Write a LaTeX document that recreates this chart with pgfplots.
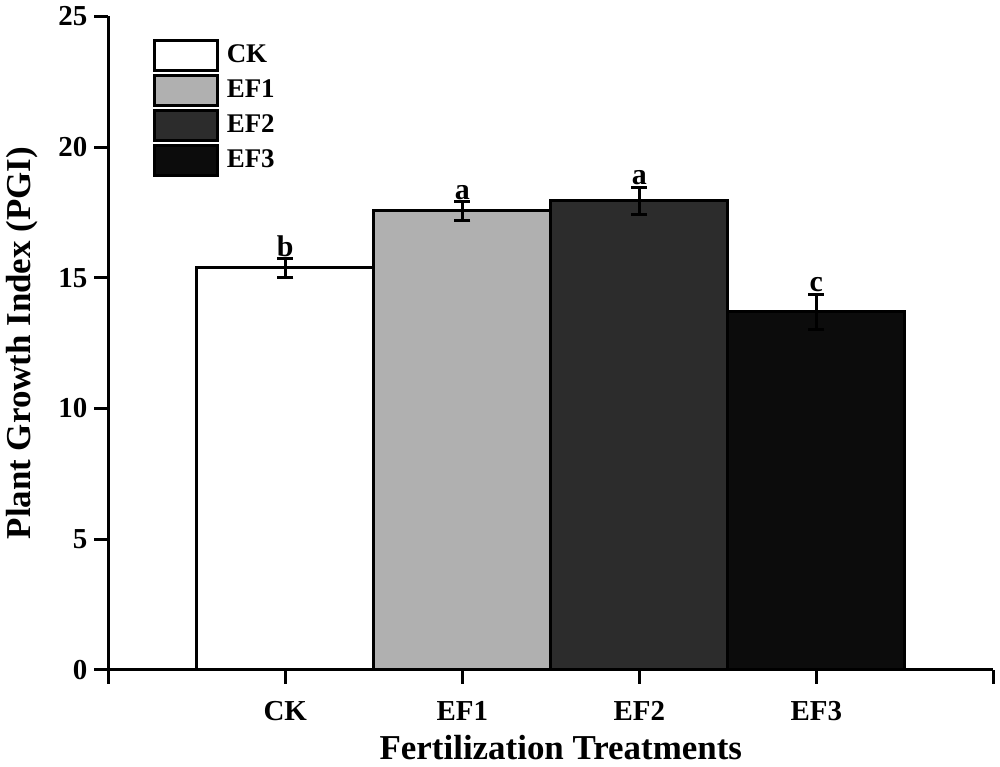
\documentclass[border=0pt]{standalone}
\usepackage{pgfplots}
\pgfplotsset{compat=1.18}
\usepackage{fontspec}
\setmainfont{Liberation Serif}
\definecolor{efone}{RGB}{176,176,176}
\definecolor{eftwo}{RGB}{44,44,44}
\definecolor{efthree}{RGB}{12,12,12}
\newcommand{\tickfont}{\bfseries\fontsize{14.5}{15}\selectfont}
\newcommand{\labfont}{\bfseries\fontsize{17.5}{18}\selectfont}
\begin{document}
\begin{tikzpicture}
\begin{axis}[
    scale only axis,
    width=443.5pt, height=327.5pt,
    xmin=0, xmax=5, ymin=0, ymax=25,
    axis x line*=bottom, axis y line*=left,
    axis line style={line width=1.5pt, -},
    xtick={0,1,2,3,4,5},
    xticklabels={,CK,EF1,EF2,EF3,},
    ytick={0,5,10,15,20,25},
    tick align=outside,
    major tick length=7pt,
    tick style={line width=1.5pt, black},
    tick label style={font=\tickfont},
    xticklabel style={text height=10pt, text depth=0pt, yshift=-5pt},
    /pgf/number format/assume math mode=true,
    xlabel={Fertilization Treatments},
    ylabel={Plant Growth Index (PGI)},
    every axis x label/.style={at={([xshift=5pt, yshift=-39pt]axis description cs:0.5,0)}, anchor=center, font=\labfont},
    every axis y label/.style={at={([xshift=-43pt]axis description cs:0,0.5)}, rotate=90, anchor=center, font=\labfont},
    legend style={at={(axis description cs:0.05,0.966)}, anchor=north west, draw=none, fill=none,
        font=\bfseries\fontsize{13.5}{14}\selectfont, row sep=1pt, inner sep=0pt,
        nodes={inner xsep=4pt}},
    legend cell align=left,
    legend image code/.code={\draw[#1, line width=1.5pt] (0pt,-7.5pt) rectangle (31.5pt,7.5pt);},
    clip=false,
]
\addplot[ybar, bar width=1, bar shift=0, fill=white, draw=black, line width=1.5pt,
    error bars/.cd, y dir=both, y explicit,
    error bar style={line width=1.5pt, black},
    error mark options={rotate=90, mark size=4pt, line width=1.5pt, black}]
    coordinates {(1,15.38) +- (0,0.35)};
\addlegendentry{CK}
\addplot[ybar, bar width=1, bar shift=0, fill=efone, draw=black, line width=1.5pt,
    error bars/.cd, y dir=both, y explicit,
    error bar style={line width=1.5pt, black},
    error mark options={rotate=90, mark size=4pt, line width=1.5pt, black}]
    coordinates {(2,17.56) +- (0,0.35)};
\addlegendentry{EF1}
\addplot[ybar, bar width=1, bar shift=0, fill=eftwo, draw=black, line width=1.5pt,
    error bars/.cd, y dir=both, y explicit,
    error bar style={line width=1.5pt, black},
    error mark options={rotate=90, mark size=4pt, line width=1.5pt, black}]
    coordinates {(3,17.94) +- (0,0.53)};
\addlegendentry{EF2}
\addplot[ybar, bar width=1, bar shift=0, fill=efthree, draw=black, line width=1.5pt,
    error bars/.cd, y dir=both, y explicit,
    error bar style={line width=1.5pt, black},
    error mark options={rotate=90, mark size=4pt, line width=1.5pt, black}]
    coordinates {(4,13.70) +- (0,0.67)};
\addlegendentry{EF3}
\node[above, inner sep=1pt, font=\bfseries\fontsize{15}{16}\selectfont] at (axis cs:1,15.73) {b};
\node[above, inner sep=1pt, font=\bfseries\fontsize{15}{16}\selectfont] at (axis cs:2,17.91) {a};
\node[above, inner sep=1pt, font=\bfseries\fontsize{15}{16}\selectfont] at (axis cs:3,18.47) {a};
\node[above, inner sep=1pt, font=\bfseries\fontsize{15}{16}\selectfont] at (axis cs:4,14.37) {c};
\end{axis}
\end{tikzpicture}
\end{document}
